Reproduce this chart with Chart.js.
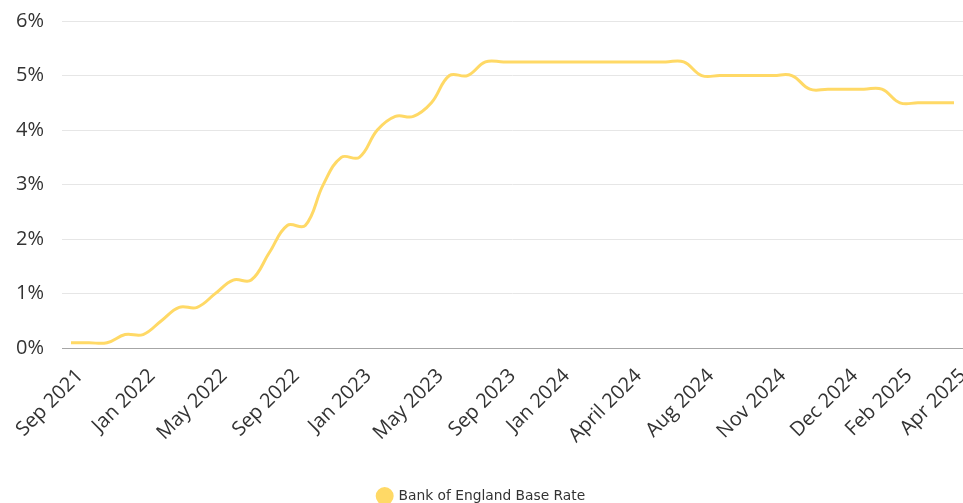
<!DOCTYPE html>
<html>
<head>
<meta charset="utf-8">
<script src="https://cdn.jsdelivr.net/npm/chart.js@4.4.1/dist/chart.umd.min.js"></script>
<style>
  html, body { margin: 0; padding: 0; background: #fff; }
  #wrap { width: 963px; height: 503px; position: relative; }
</style>
</head>
<body>
<div id="wrap"><canvas id="rateChart"></canvas></div>
<script>
// One category per reading; only some of them carry an axis label
const xLabels = [
    'Sep 2021', '', '', '', 'Jan 2022', '', '', '', 'May 2022', '', '', '',
    'Sep 2022', '', '', '', 'Jan 2023', '', '', '', 'May 2023', '', '', '',
    'Sep 2023', '', '', 'Jan 2024', '', '', '', 'April 2024', '', '', '',
    'Aug 2024', '', '', '', 'Nov 2024', '', '', '', 'Dec 2024', '', '',
    'Feb 2025', '', '', 'Apr 2025'
];

// Bank of England base rate (%)
const baseRate = [
    0.1, 0.1, 0.1, 0.25, 0.25, 0.5, 0.75, 0.75, 1.0, 1.25, 1.25, 1.75,
    2.25, 2.25, 3.0, 3.5, 3.5, 4.0, 4.25, 4.25, 4.5, 5.0, 5.0, 5.25,
    5.25, 5.25, 5.25, 5.25, 5.25, 5.25, 5.25, 5.25, 5.25, 5.25, 5.25,
    5.0, 5.0, 5.0, 5.0, 5.0, 5.0, 4.75, 4.75, 4.75, 4.75, 4.75,
    4.5, 4.5, 4.5, 4.5
];

const yTicks = [0, 1, 2, 3, 4, 5, 6];

const lineColor = '#ffd966';
const textColor = '#333333';

const rateChart = new Chart(document.getElementById('rateChart'), {
    type: 'line',
    data: {
        labels: xLabels,
        datasets: [
            {
                label: 'Bank of England Base Rate',
                data: baseRate,
                borderColor: lineColor,
                backgroundColor: lineColor,
                borderWidth: 3,
                pointRadius: 0,
                tension: 0.4,
                fill: false
            }
        ]
    },
    options: {
        responsive: true,
        maintainAspectRatio: false,
        animation: false,
        layout: {
            padding: { top: 21, right: 0, bottom: -10, left: 0 }
        },
        plugins: {
            legend: {
                position: 'bottom',
                labels: {
                    usePointStyle: true,
                    pointStyle: 'circle',
                    boxWidth: 14,
                    boxHeight: 10.6,
                    padding: 10,
                    color: textColor,
                    font: { family: 'DejaVu Sans', size: 13.8 }
                }
            },
            tooltip: { enabled: false }
        },
        scales: {
            x: {
                offset: true,
                grid: { display: false },
                border: { display: true, color: '#a6a6a6', width: 1 },
                ticks: {
                    autoSkip: false,
                    maxRotation: 45,
                    minRotation: 45,
                    padding: 8,
                    labelOffset: 9,
                    color: textColor,
                    font: { family: 'Open Sans', size: 20 }
                },
                afterFit: (scale) => {
                    scale.height = 131;
                    scale.paddingLeft = 0;
                    scale.paddingRight = 0;
                }
            },
            y: {
                min: yTicks[0],
                max: yTicks[yTicks.length - 1],
                grid: { color: '#e6e6e6', drawTicks: false },
                border: { display: false },
                afterBuildTicks: (scale) => {
                    scale.ticks = yTicks.map(v => ({ value: v }));
                },
                ticks: {
                    padding: 18,
                    color: textColor,
                    font: { family: 'Open Sans', size: 20 },
                    callback: (v) => v + '%'
                },
                afterFit: (scale) => {
                    scale.width = 62;
                    scale.paddingTop = 0;
                    scale.paddingBottom = 0;
                }
            }
        }
    }
});
</script>
</body>
</html>
